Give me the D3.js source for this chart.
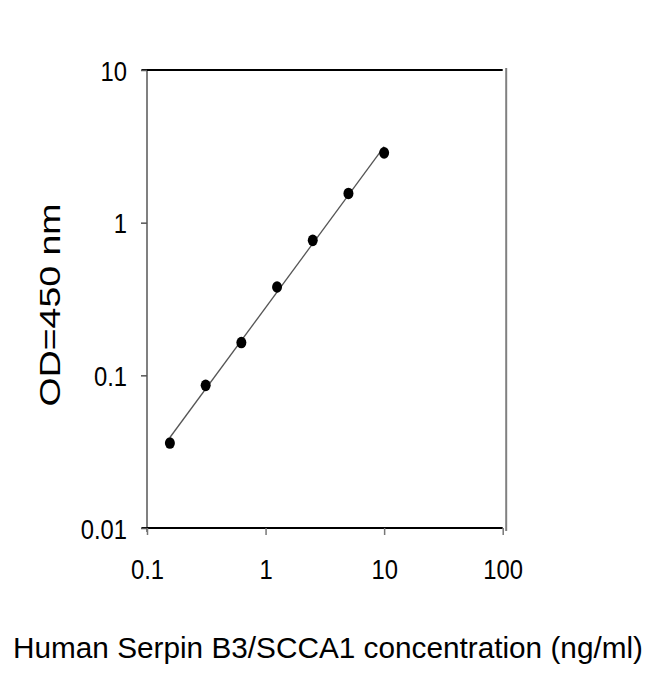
<!DOCTYPE html>
<html lang="en">
<head>
<meta charset="UTF-8">
<title>Serpin B3 standard curve</title>
<script src="https://d3js.org/d3.v7.min.js"></script>
<style>
  body { margin: 0; background: #fff; }
  text { font-family: "Liberation Sans", Arial, sans-serif; fill: #000; }
</style>
</head>
<body>
<svg width="650" height="674"></svg>
<script>
// standard curve readings
var conc = [0.156, 0.3125, 0.625, 1.25, 2.5, 5, 10];
var od = [0.036, 0.086, 0.164, 0.379, 0.766, 1.554, 2.867];
var xTicks = [0.1, 1, 10, 100];
var yTicks = [0.01, 0.1, 1, 10];

var margin = {top: 70, left: 147};
var width = 355.7, height = 458;

var svg = d3.select("svg");
var g = svg.append("g").attr("transform", "translate(" + margin.left + "," + margin.top + ")");

var x = d3.scaleLog().domain([0.1, 100]).range([0, width]);
var y = d3.scaleLog().domain([0.01, 10]).range([height, 0]);

// left / right grey frame
g.append("line").attr("x1", 0).attr("x2", 0).attr("y1", -1).attr("y2", height + 4)
    .attr("stroke", "#808080").attr("stroke-width", 2);
g.append("line").attr("x1", width + 3.5).attr("x2", width + 3.5).attr("y1", -2).attr("y2", height + 3)
    .attr("stroke", "#808080").attr("stroke-width", 2);

// top black line
g.append("line").attr("x1", -5.5).attr("x2", width).attr("y1", 0).attr("y2", 0)
    .attr("stroke", "#000").attr("stroke-width", 2);

var fmt = function (d) { return d3.format("~g")(d); };

var xAxis = g.append("g")
    .attr("transform", "translate(0," + height + ")")
    .call(d3.axisBottom(x).tickValues(xTicks).tickFormat(fmt).tickSize(7).tickPadding(24).tickSizeOuter(0));
xAxis.select(".domain").attr("stroke", "#000").attr("stroke-width", 2).attr("d", "M-5.5,0H" + width);
xAxis.selectAll(".tick line").attr("stroke", "#777").attr("stroke-width", 1.5);
xAxis.selectAll(".tick text").attr("font-size", 28).attr("font-family", "Liberation Sans, Arial, sans-serif");

var yAxis = g.append("g")
    .call(d3.axisLeft(y).tickValues(yTicks).tickFormat(fmt).tickSize(6).tickPadding(14).tickSizeOuter(0));
yAxis.select(".domain").remove();
yAxis.selectAll(".tick line").attr("stroke", "#555").attr("stroke-width", 1.5);
yAxis.selectAll(".tick text").attr("font-size", 28).attr("dy", "0.36em").attr("font-family", "Liberation Sans, Arial, sans-serif");

// narrow the tick labels a little
g.selectAll(".tick text").each(function () {
    var len = this.getComputedTextLength();
    d3.select(this).attr("textLength", len * 0.85).attr("lengthAdjust", "spacingAndGlyphs");
});

// log-log trend line over the data range
var lx = conc.map(Math.log10), ly = od.map(Math.log10);
var mx = d3.mean(lx), my = d3.mean(ly);
var slope = d3.sum(lx, function (v, i) { return (v - mx) * (ly[i] - my); }) / d3.sum(lx, function (v) { return (v - mx) * (v - mx); });
var icpt = my - slope * mx;
var ends = d3.extent(conc);
g.append("path")
    .datum(ends)
    .attr("fill", "none")
    .attr("stroke", "#555")
    .attr("stroke-width", 1.3)
    .attr("d", d3.line()
        .x(function (d) { return x(d); })
        .y(function (d) { return y(Math.pow(10, icpt + slope * Math.log10(d))); }));

// points
g.selectAll(".pt")
    .data(conc.map(function (c, i) { return {c: c, v: od[i]}; }))
    .enter().append("ellipse")
    .attr("class", "pt")
    .attr("cx", function (d) { return x(d.c); })
    .attr("cy", function (d) { return y(d.v); })
    .attr("rx", 5)
    .attr("ry", 5.8)
    .attr("fill", "#000");

// axis titles
svg.append("text")
    .attr("transform", "translate(60,305) rotate(-90)")
    .attr("text-anchor", "middle")
    .attr("font-size", 29)
    .attr("textLength", 203)
    .attr("lengthAdjust", "spacingAndGlyphs")
    .text("OD=450 nm");

svg.append("text")
    .attr("x", 328)
    .attr("y", 658)
    .attr("text-anchor", "middle")
    .attr("font-size", 30)
    .attr("textLength", 630)
    .attr("lengthAdjust", "spacingAndGlyphs")
    .text("Human Serpin B3/SCCA1 concentration (ng/ml)");
</script>
</body>
</html>
